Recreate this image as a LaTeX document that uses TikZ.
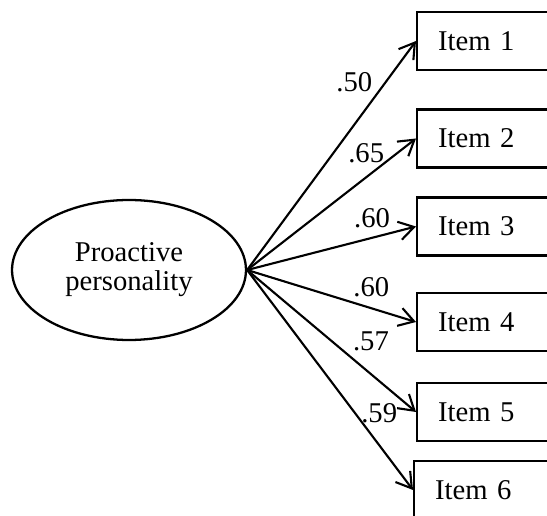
\documentclass[tikz,border=0pt]{standalone}
\usepackage{fontspec}
\setmainfont{Liberation Serif}
\usepackage{tikz}
\usetikzlibrary{arrows.meta, positioning, shapes.geometric}

\begin{document}
\begin{tikzpicture}[
    x=0.02cm, y=-0.02cm,
    every node/.style={font=\fontsize{16.3}{16.5}\selectfont},
    latent/.style={ellipse, draw, line width=1.3pt, minimum width=4.68cm, minimum height=2.8cm, inner sep=0pt, align=center},
    item/.style={rectangle, draw, line width=1.3pt, anchor=west, minimum height=1.16cm, text width=2.6cm, inner xsep=0.42cm, align=left},
    arrow/.style={-{Straight Barb[length=8.5pt, width=10.5pt]}, line width=1.2pt},
    load/.style={inner sep=2pt},
]
    \useasboundingbox (0,0) rectangle (547,516);
    \clip (0,0) rectangle (547,516);

    % Latent factor
    \node[latent] (proactive) at (129,270) {Proactive\\personality};

    % Indicators
    \node[item] (item1) at (416,41) {Item 1};
    \node[item] (item2) at (416,138.5) {Item 2};
    \node[item] (item3) at (416,226.5) {Item 3};
    \node[item] (item4) at (416,322) {Item 4};
    \node[item] (item5) at (416,412) {Item 5};
    \node[item] (item6) at (413,490) {Item 6};

    % Loadings
    \draw[arrow] (proactive.east) -- node[load, pos=.82, left=5pt] {.50} (item1.west);
    \draw[arrow] (proactive.east) -- node[load, pos=.89, left=5pt] {.65} (item2.west);
    \draw[arrow] (proactive.east) -- node[load, pos=.74, above=3pt] {.60} (item3.west);
    \draw[arrow] (proactive.east) -- node[load, pos=.735, above=4pt] {.60} (item4.west);
    \draw[arrow] (proactive.east) -- node[load, pos=.6, above right] {.57} (item5.west);
    \draw[arrow] (proactive.east) -- node[load, pos=.65, right=1pt] {.59} (item6.west);
\end{tikzpicture}
\end{document}
